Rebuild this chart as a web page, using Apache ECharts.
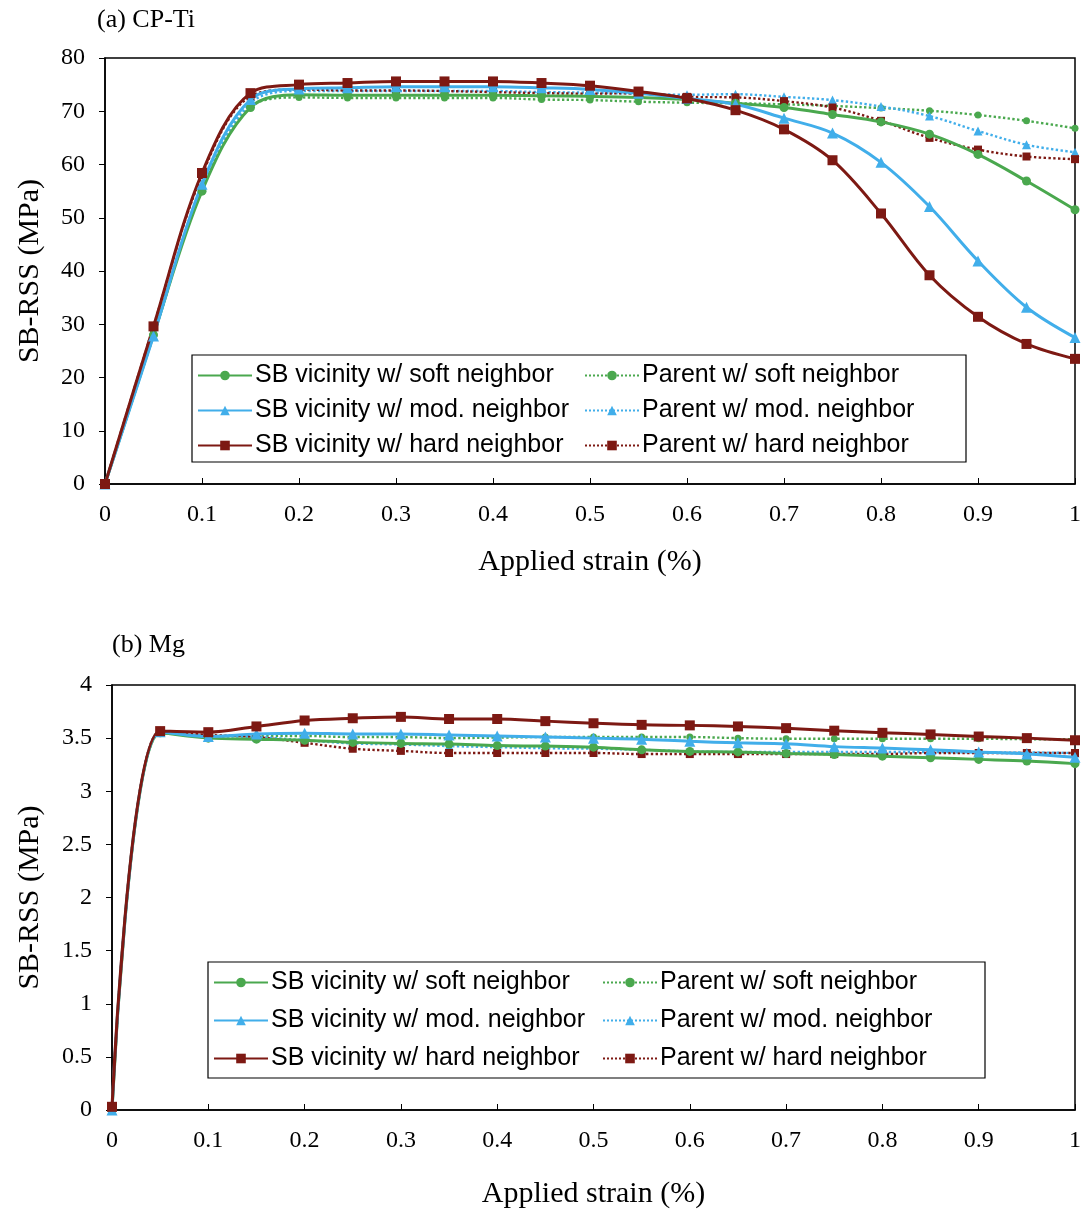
<!DOCTYPE html>
<html>
<head>
<meta charset="utf-8">
<title>SB-RSS vs applied strain</title>
<script src="https://cdn.jsdelivr.net/npm/echarts@6/dist/echarts.min.js"></script>
<style>
    html, body { margin: 0; padding: 0; background: #fff; }
    #chart { width: 1086px; height: 1214px; }
</style>
</head>
<body>
<div id="chart"></div>
<script>
// strain steps shared by both panels
var strain = [0, 0.05, 0.1, 0.15, 0.2, 0.25, 0.3, 0.35, 0.4, 0.45, 0.5,
    0.55, 0.6, 0.65, 0.7, 0.75, 0.8, 0.85, 0.9, 0.95, 1];

// (a) CP-Ti
var tiSbSoft = [0, 28, 55, 70.7, 73.1, 73.0, 73.0, 73.0, 73.0, 72.9, 72.8, 72.6, 72.2, 71.5, 70.7, 69.4, 68.0, 65.7, 61.9, 56.9, 51.5];
var tiSbMod = [0, 27.8, 56.3, 72.2, 74.2, 74.4, 74.6, 74.6, 74.6, 74.4, 74.1, 73.4, 72.4, 71.3, 68.7, 65.9, 60.4, 52.1, 41.9, 33.2, 27.5];
var tiSbHard = [0, 29.6, 58.4, 73.4, 75.0, 75.3, 75.6, 75.6, 75.6, 75.3, 74.8, 73.7, 72.4, 70.2, 66.6, 60.8, 50.8, 39.2, 31.4, 26.3, 23.5];
var tiParSoft = [0, 28, 55.3, 70.8, 72.6, 72.5, 72.5, 72.5, 72.5, 72.2, 72.1, 71.8, 71.6, 71.5, 71.3, 71.0, 70.6, 70.1, 69.3, 68.2, 66.8];
var tiParMod = [0, 27.8, 55.8, 71.5, 73.8, 73.8, 73.8, 73.8, 73.8, 73.6, 73.5, 73.3, 73.1, 73.2, 72.7, 72.1, 70.9, 69.1, 66.3, 63.7, 62.3];
var tiParHard = [0, 29.6, 58.0, 72.8, 74.1, 73.9, 73.9, 73.8, 73.6, 73.4, 73.3, 73.4, 72.7, 72.6, 71.9, 70.7, 68.2, 65.0, 62.8, 61.5, 61.0];

// (b) Mg
var mgSbSoft = [0, 3.55, 3.50, 3.49, 3.48, 3.46, 3.45, 3.445, 3.43, 3.425, 3.415, 3.39, 3.375, 3.37, 3.355, 3.345, 3.33, 3.315, 3.30, 3.285, 3.26];
var mgSbMod = [0, 3.56, 3.515, 3.54, 3.547, 3.54, 3.54, 3.53, 3.52, 3.51, 3.50, 3.49, 3.47, 3.456, 3.447, 3.42, 3.406, 3.39, 3.37, 3.35, 3.32];
var mgSbHard = [0.03, 3.566, 3.556, 3.61, 3.666, 3.687, 3.70, 3.68, 3.68, 3.66, 3.64, 3.625, 3.62, 3.61, 3.594, 3.57, 3.55, 3.535, 3.515, 3.50, 3.48];
var mgParSoft = [0, 3.55, 3.52, 3.52, 3.52, 3.51, 3.51, 3.50, 3.505, 3.51, 3.51, 3.51, 3.51, 3.50, 3.494, 3.494, 3.494, 3.494, 3.494, 3.49, 3.49];
var mgParMod = [0, 3.56, 3.52, 3.51, 3.48, 3.45, 3.44, 3.425, 3.415, 3.405, 3.40, 3.39, 3.375, 3.37, 3.37, 3.37, 3.37, 3.37, 3.365, 3.365, 3.36];
var mgParHard = [0.03, 3.566, 3.53, 3.51, 3.456, 3.40, 3.38, 3.36, 3.36, 3.36, 3.36, 3.35, 3.35, 3.35, 3.35, 3.35, 3.35, 3.36, 3.36, 3.36, 3.36];

var names = ['SB vicinity w/ soft neighbor', 'SB vicinity w/ mod. neighbor', 'SB vicinity w/ hard neighbor',
    'Parent w/ soft neighbor', 'Parent w/ mod. neighbor', 'Parent w/ hard neighbor'];

var green = '#4aa84e';
var blue = '#41aeea';
var red = '#7d1913';
var serif = '"Liberation Serif", "Times New Roman", serif';
var sans = '"Liberation Sans", Arial, sans-serif';

function pairs(values) {
    var out = [];
    for (var i = 0; i < strain.length; i++) {
        out.push([strain[i], values[i]]);
    }
    return out;
}

function makeSeries(name, values, color, symbol, size, dotted, idx) {
    return {
        name: name,
        type: 'line',
        xAxisIndex: idx,
        yAxisIndex: idx,
        data: pairs(values),
        smooth: 0.35,
        symbol: symbol,
        symbolSize: size,
        showAllSymbol: true,
        animation: false,
        z: dotted ? 2 : 3,
        itemStyle: { color: color },
        lineStyle: { color: color, width: dotted ? 2.4 : 3, type: dotted ? 'dotted' : 'solid' }
    };
}

function panelSeries(idx, sbS, sbM, sbH, pS, pM, pH) {
    return [
        makeSeries(names[3], pS, green, 'circle', 7, true, idx),
        makeSeries(names[4], pM, blue, 'triangle', 9, true, idx),
        makeSeries(names[5], pH, red, 'rect', 8, true, idx),
        makeSeries(names[0], sbS, green, 'circle', 9, false, idx),
        makeSeries(names[1], sbM, blue, 'triangle', 11, false, idx),
        makeSeries(names[2], sbH, red, 'rect', 10, false, idx)
    ];
}

function xAxisFor(idx, gap) {
    return {
        type: 'value', gridIndex: idx, min: 0, max: 1, interval: 0.1,
        name: 'Applied strain (%)', nameLocation: 'middle', nameGap: gap,
        nameTextStyle: { fontFamily: serif, fontSize: 30, color: '#000' },
        axisLine: { show: true, onZero: false, lineStyle: { color: '#000', width: 1.5 } },
        axisTick: { show: true, inside: true, length: 6, lineStyle: { color: '#000' } },
        axisLabel: { fontFamily: serif, fontSize: 24, color: '#000', margin: 19 },
        splitLine: { show: false }
    };
}

function yAxisFor(idx, max, step, gap) {
    return {
        type: 'value', gridIndex: idx, min: 0, max: max, interval: step,
        name: 'SB-RSS (MPa)', nameLocation: 'middle', nameGap: gap, nameRotate: 90,
        nameTextStyle: { fontFamily: serif, fontSize: 30, color: '#000' },
        axisLine: { show: true, lineStyle: { color: '#000', width: 1.5 } },
        axisTick: { show: true, inside: false, length: 6, lineStyle: { color: '#000' } },
        axisLabel: { fontFamily: serif, fontSize: 24, color: '#000', margin: 20 },
        splitLine: { show: false }
    };
}

function legendCol(left, top, list, gap) {
    return {
        orient: 'vertical', left: left, top: top,
        data: list,
        itemWidth: 54, itemHeight: 12, itemGap: gap,
        selectedMode: false,
        textStyle: { fontFamily: sans, fontSize: 25, color: '#000', padding: [0, 0, 0, -2] }
    };
}

var chart = echarts.init(document.getElementById('chart'));
var option = {
    backgroundColor: '#fff',
    animation: false,
    title: [
        { text: '(a) CP-Ti', left: 92, top: 2, textStyle: { fontFamily: serif, fontSize: 26, fontWeight: 'normal', color: '#000' } },
        { text: '(b) Mg', left: 107, top: 627, textStyle: { fontFamily: serif, fontSize: 26, fontWeight: 'normal', color: '#000' } }
    ],
    grid: [
        { left: 105, right: 11, top: 58, height: 426, show: true, borderColor: '#000', borderWidth: 1.5 },
        { left: 112, right: 11, top: 685, height: 425, show: true, borderColor: '#000', borderWidth: 1.5 }
    ],
    xAxis: [xAxisFor(0, 63), xAxisFor(1, 69)],
    yAxis: [yAxisFor(0, 80, 10, 60), yAxisFor(1, 4, 0.5, 67)],
    legend: [
        legendCol(192, 358, names.slice(0, 3), 10),
        legendCol(579, 358, names.slice(3, 6), 10),
        legendCol(208, 965, names.slice(0, 3), 13),
        legendCol(597, 965, names.slice(3, 6), 13)
    ],
    graphic: [
        { type: 'rect', shape: { x: 192, y: 355, width: 774, height: 107 }, style: { fill: 'none', stroke: '#000', lineWidth: 1.2 }, z: 10 },
        { type: 'rect', shape: { x: 208, y: 962, width: 777, height: 116 }, style: { fill: 'none', stroke: '#000', lineWidth: 1.2 }, z: 10 }
    ],
    series: panelSeries(0, tiSbSoft, tiSbMod, tiSbHard, tiParSoft, tiParMod, tiParHard)
        .concat(panelSeries(1, mgSbSoft, mgSbMod, mgSbHard, mgParSoft, mgParMod, mgParHard))
};
chart.setOption(option);
</script>
</body>
</html>
